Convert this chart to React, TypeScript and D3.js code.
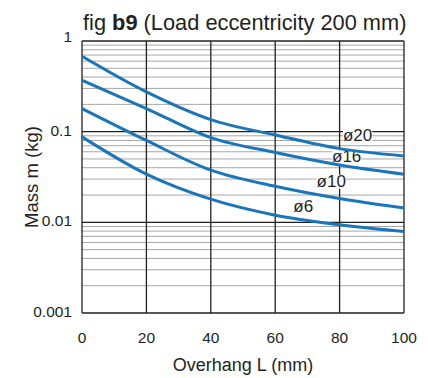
import { useEffect, useRef } from "react"
import * as d3 from "d3"

const overhang = [0, 20, 40, 60, 80, 100]
const seriesNames = ["ø20", "ø16", "ø10", "ø6"]
const mass20 = [0.68, 0.275, 0.136, 0.092, 0.065, 0.054]
const mass16 = [0.37, 0.18, 0.086, 0.059, 0.043, 0.034]
const mass10 = [0.18, 0.08, 0.0376, 0.025, 0.0183, 0.0144]
const mass6 = [0.0877, 0.034, 0.018, 0.012, 0.0094, 0.0079]
const xTicks = [0, 20, 40, 60, 80, 100]
const yTicks = [1, 0.1, 0.01, 0.001]
const yTickLabels = ["1", "0.1", "0.01", "0.001"]
// label anchor positions (data units)
const labelX = [85.6, 82.2, 77.4, 68.7]
const labelY = [0.089, 0.0516, 0.0277, 0.0145]

export default function App() {
  const svgRef = useRef<SVGSVGElement>(null)

  useEffect(() => {
    if (!svgRef.current) return
    const width = 428
    const height = 378
    const margin = { top: 41, right: 24, bottom: 65, left: 82 }
    const innerWidth = width - margin.left - margin.right
    const innerHeight = height - margin.top - margin.bottom

    const svg = d3.select(svgRef.current)
    svg.selectAll("*").remove()
    svg.attr("width", width).attr("height", height)

    const x = d3.scaleLinear().domain([0, 100]).range([0, innerWidth])
    const y = d3.scaleLog().domain([0.001, 1]).range([innerHeight, 0])

    const g = svg.append("g").attr("transform", `translate(${margin.left}, ${margin.top})`)
    const font = "'Liberation Sans', Arial, sans-serif"
    const ink = "#231f20"

    // minor grid
    const minor: number[] = []
    ;[0.001, 0.01, 0.1].forEach((d) => {
      for (let k = 2; k <= 9; k++) minor.push(d * k)
    })
    g.selectAll(".minor")
      .data(minor)
      .join("line")
      .attr("x1", 0)
      .attr("x2", innerWidth)
      .attr("y1", (d) => y(d))
      .attr("y2", (d) => y(d))
      .attr("stroke", "#a7a7a7")
      .attr("stroke-width", 1)

    // major grid
    g.selectAll(".hmajor")
      .data(yTicks)
      .join("line")
      .attr("x1", 0)
      .attr("x2", innerWidth)
      .attr("y1", (d) => y(d))
      .attr("y2", (d) => y(d))
      .attr("stroke", ink)
      .attr("stroke-width", 1.3)
    g.selectAll(".vmajor")
      .data(xTicks)
      .join("line")
      .attr("x1", (d) => x(d))
      .attr("x2", (d) => x(d))
      .attr("y1", 0)
      .attr("y2", innerHeight)
      .attr("stroke", ink)
      .attr("stroke-width", 1.3)

    // series labels with white backing boxes
    const labels = g.append("g")
    seriesNames.forEach((name, i) => {
      const t = labels
        .append("text")
        .attr("x", x(labelX[i]))
        .attr("y", y(labelY[i]))
        .attr("text-anchor", "middle")
        .attr("dominant-baseline", "middle")
        .attr("font-family", font)
        .attr("font-size", "17px")
        .attr("fill", ink)
        .text(name)
      const bb = (t.node() as SVGTextElement).getBBox()
      labels
        .insert("rect", "text")
        .attr("x", bb.x)
        .attr("y", bb.y + 3)
        .attr("width", bb.width)
        .attr("height", bb.height - 5)
        .attr("fill", "white")
    })

    // curves
    const series = [mass20, mass16, mass10, mass6]
    const line = d3
      .line<number>()
      .x((_, i) => x(overhang[i]))
      .y((d) => y(d))
      .curve(d3.curveMonotoneX)
    g.selectAll(".curve")
      .data(series)
      .join("path")
      .attr("d", (d) => line(d))
      .attr("fill", "none")
      .attr("stroke", "#1a75bb")
      .attr("stroke-width", 3)

    // y tick labels
    g.selectAll(".ylab")
      .data(yTicks)
      .join("text")
      .attr("x", -10)
      .attr("y", (d) => y(d) - (d === 1 ? 3 : 0))
      .attr("text-anchor", "end")
      .attr("dominant-baseline", "middle")
      .attr("font-family", font)
      .attr("font-size", "15.5px")
      .attr("fill", ink)
      .text((_, i) => yTickLabels[i])

    // x tick labels
    g.selectAll(".xlab")
      .data(xTicks)
      .join("text")
      .attr("x", (d) => x(d))
      .attr("y", innerHeight + 26)
      .attr("text-anchor", "middle")
      .attr("dominant-baseline", "middle")
      .attr("font-family", font)
      .attr("font-size", "15.5px")
      .attr("fill", ink)
      .text((d) => d)

    // axis titles
    svg
      .append("text")
      .attr("x", margin.left + innerWidth / 2)
      .attr("y", 371)
      .attr("text-anchor", "middle")
      .attr("font-family", font)
      .attr("font-size", "18px")
      .attr("fill", ink)
      .text("Overhang L (mm)")

    svg
      .append("text")
      .attr("transform", "rotate(-90)")
      .attr("x", -(margin.top + innerHeight / 2))
      .attr("y", 38)
      .attr("text-anchor", "middle")
      .attr("font-family", font)
      .attr("font-size", "18.5px")
      .attr("fill", ink)
      .text("Mass m (kg)")

    // title
    const title = svg
      .append("text")
      .attr("x", 83)
      .attr("y", 30)
      .attr("font-family", font)
      .attr("font-size", "21.8px")
      .attr("fill", ink)
    title.append("tspan").text("fig ")
    title.append("tspan").attr("font-weight", "bold").text("b9")
    title.append("tspan").text(" (Load eccentricity 200 mm)")
  }, [])

  return (
    <svg
      ref={svgRef}
      style={{ position: "absolute", left: 0, top: 0, display: "block", background: "white" }}
    ></svg>
  )
}
